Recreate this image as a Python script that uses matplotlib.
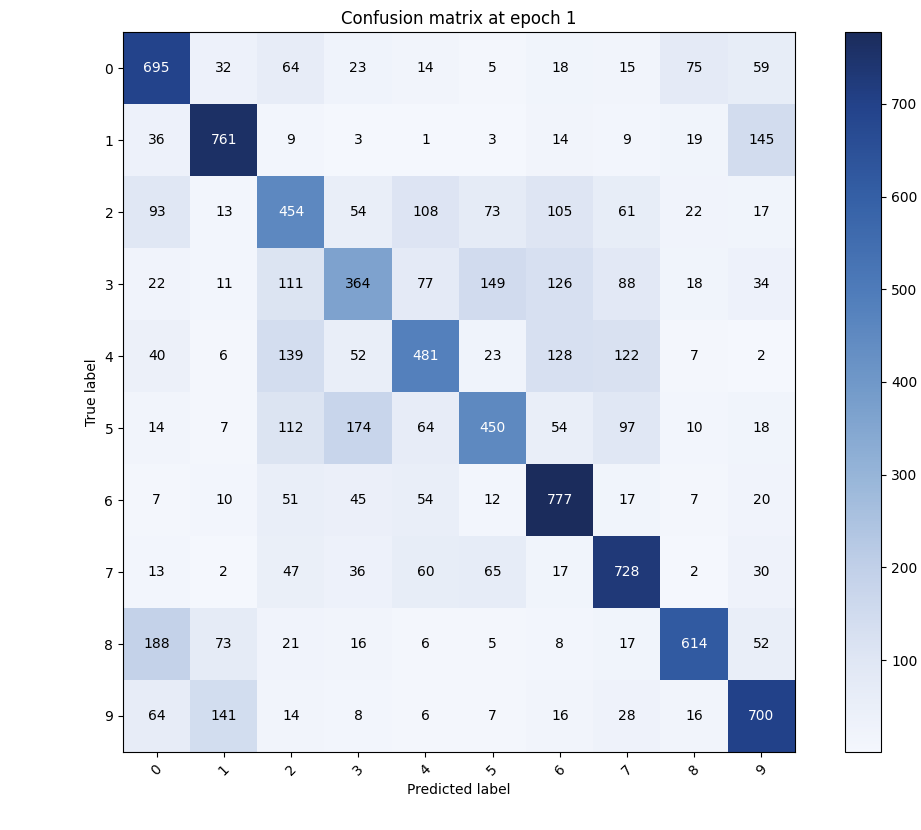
import numpy as np
import matplotlib.pyplot as plt
from matplotlib.colors import LinearSegmentedColormap

classes = ['0', '1', '2', '3', '4', '5', '6', '7', '8', '9']

row0 = [695, 32, 64, 23, 14, 5, 18, 15, 75, 59]
row1 = [36, 761, 9, 3, 1, 3, 14, 9, 19, 145]
row2 = [93, 13, 454, 54, 108, 73, 105, 61, 22, 17]
row3 = [22, 11, 111, 364, 77, 149, 126, 88, 18, 34]
row4 = [40, 6, 139, 52, 481, 23, 128, 122, 7, 2]
row5 = [14, 7, 112, 174, 64, 450, 54, 97, 10, 18]
row6 = [7, 10, 51, 45, 54, 12, 777, 17, 7, 20]
row7 = [13, 2, 47, 36, 60, 65, 17, 728, 2, 30]
row8 = [188, 73, 21, 16, 6, 5, 8, 17, 614, 52]
row9 = [64, 141, 14, 8, 6, 7, 16, 28, 16, 700]

cm = np.array([row0, row1, row2, row3, row4, row5, row6, row7, row8, row9])

# screenshot colours look like a washed-out Blues, so build one by hand
blues = LinearSegmentedColormap.from_list('blues_shot', [
    (0.00, '#f4f7fd'),
    (0.13, '#dfe6f4'),
    (0.26, '#c0cfe8'),
    (0.38, '#98b6d9'),
    (0.51, '#7199c9'),
    (0.64, '#4f7cba'),
    (0.77, '#3560a6'),
    (0.90, '#23428a'),
    (1.00, '#1b2c5c'),
])

fig = plt.figure(figsize=(9.21, 8.3), dpi=100)
ax = fig.add_axes([0.1336, 0.094, 0.7296, 0.867])
cax = fig.add_axes([0.917, 0.094, 0.040, 0.867])

im = ax.imshow(cm, interpolation='nearest', cmap=blues, aspect='auto')
ax.set_title('Confusion matrix at epoch 1', fontsize=12)
cb = fig.colorbar(im, cax=cax)
cb.ax.tick_params(labelsize=10)

ticks = np.arange(len(classes))
ax.set_xticks(ticks)
ax.set_xticklabels(classes, rotation=45)
ax.set_yticks(ticks)
ax.set_yticklabels(classes)
ax.tick_params(labelsize=10)

thresh = cm.max() / 2.
for i in range(cm.shape[0]):
    for j in range(cm.shape[1]):
        ax.text(j, i, str(cm[i, j]), ha='center', va='center', fontsize=10,
                color='white' if cm[i, j] > thresh else 'black')

ax.set_ylabel('True label')
ax.set_xlabel('Predicted label')

plt.savefig('out.png', dpi=100)
